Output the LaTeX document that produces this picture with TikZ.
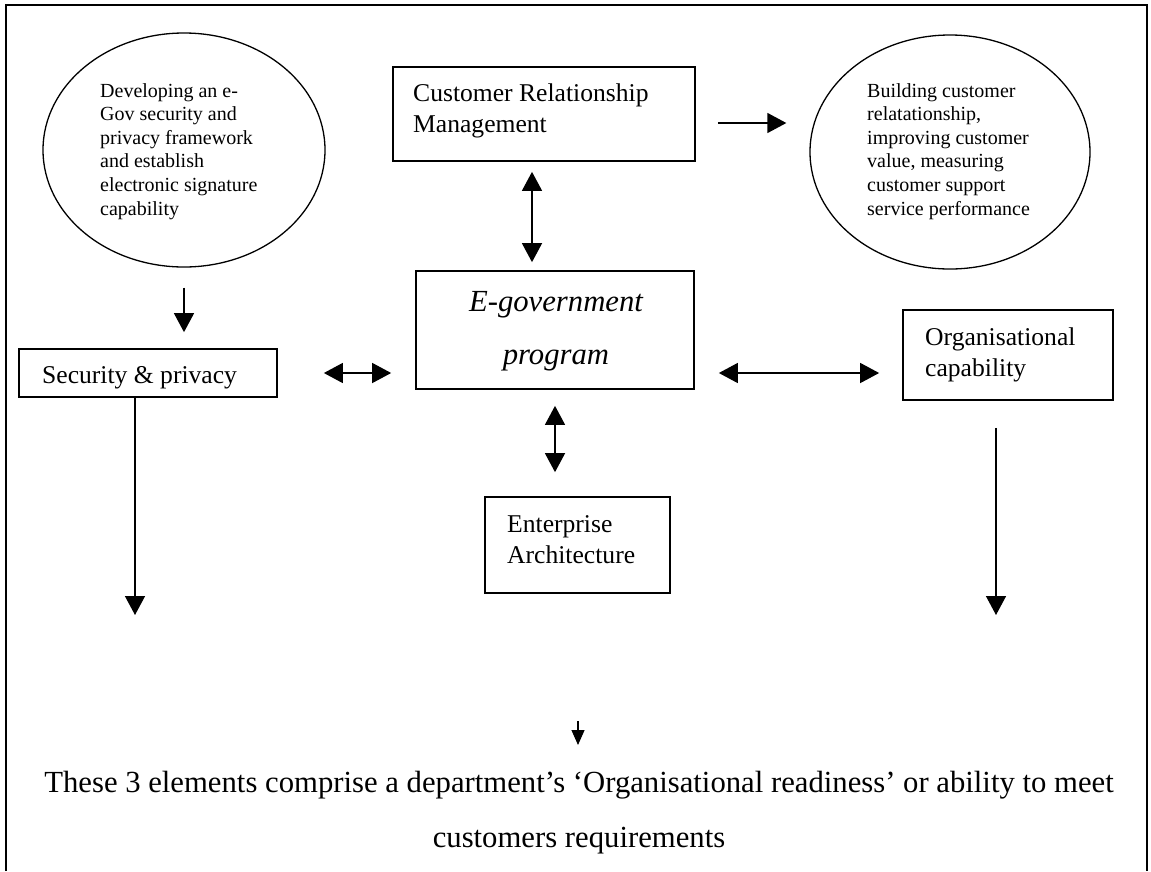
\documentclass[tikz,border=0pt]{standalone}
\usepackage{fontspec}
\setmainfont{Liberation Serif}
\usetikzlibrary{arrows.meta,shapes.geometric}

% type sizes used in the figure
\newcommand{\ovalfont}{\fontsize{20pt}{23.6pt}\selectfont}
\newcommand{\boxfont}{\fontsize{25.6pt}{31.5pt}\selectfont}
\newcommand{\progfont}{\fontsize{30.7pt}{53pt}\selectfont\itshape}
\newcommand{\notefont}{\fontsize{30.7pt}{55pt}\selectfont}

\begin{document}
\begin{tikzpicture}[x=1pt,y=-1pt,
  box/.style={draw, line width=1.7pt, inner sep=0pt},
  oval/.style={ellipse, draw, line width=1.3pt, inner sep=0pt},
  txt/.style={anchor=base west, inner sep=0pt},
  ctxt/.style={anchor=base, inner sep=0pt},
  tip/.tip={Triangle[width=20pt,length=19pt]},
  arr/.style={line width=1.4pt, -tip},
  darr/.style={line width=1.4pt, tip-tip}]

\useasboundingbox (0,0) rectangle (1151,871);
\fill[white] (0,0) rectangle (1151,871);

% page frame (open at the bottom)
\draw[line width=1.3pt] (6,871) -- (6,5) -- (1147,5) -- (1147,871);

% ---------- shapes ----------
\node[oval, minimum width=282pt, minimum height=234pt] (secoval) at (184,150) {};
\node[oval, minimum width=280pt, minimum height=234pt] (crmoval) at (950,152) {};

\node[box, minimum width=302pt, minimum height=94pt]  (crm)  at (544,114) {};
\node[box, minimum width=278pt, minimum height=118pt] (egov) at (555,330) {};
\node[box, minimum width=258pt, minimum height=48pt]  (sec)  at (148,373) {};
\node[box, minimum width=210pt, minimum height=90pt]  (org)  at (1008,355) {};
\node[box, minimum width=185pt, minimum height=96pt]  (ea)   at (577.5,545) {};

% ---------- texts ----------
\node[txt, font=\ovalfont] (secovaltext) at (100,97)
  {\vtop{\hbox{Developing an e-}\hbox{Gov security and}\hbox{privacy framework}%
   \hbox{and establish}\hbox{electronic signature}\hbox{capability}}};
\node[txt, font=\ovalfont] (crmovaltext) at (867,97)
  {\vtop{\hbox{Building customer}\hbox{relatationship,}\hbox{improving customer}%
   \hbox{value, measuring}\hbox{customer support}\hbox{service performance}}};

\node[txt, font=\boxfont] (crmtext) at (413,101)
  {\vtop{\hbox{Customer Relationship}\hbox{Management}}};
\node[ctxt, font=\progfont] (egovtext) at (556,311)
  {\vtop{\hbox to 240pt{\hfil E-government\hfil}\hbox to 240pt{\hfil program\hfil}}};
\node[txt, font=\boxfont] (sectext) at (42,383) {Security \& privacy};
\node[txt, font=\boxfont] (orgtext) at (925,345)
  {\vtop{\hbox{Organisational}\hbox{capability}}};
\node[txt, font=\boxfont] (eatext) at (507,532)
  {\vtop{\hbox{Enterprise}\hbox{Architecture}}};

\node[ctxt, font=\notefont] (summary) at (579,792)
  {\vtop{\hbox to 1140pt{\hfil These 3 elements comprise a department’s ‘Organisational readiness’ or ability to meet\hfil}%
   \hbox to 1140pt{\hfil customers requirements\hfil}}};

% ---------- connectors ----------
\draw[darr, shorten <=10pt, shorten >=8pt]
  ([xshift=-12pt]crm.south) -- ([xshift=-12pt]crm.south |- egov.north);
\draw[arr, shorten <=22pt, shorten >=23pt]
  ([yshift=-9pt]crm.east) -- ([yshift=-9pt]crm.east -| crmoval.west);
\draw[arr, shorten <=20pt, shorten >=16pt]
  (secoval.south) -- (secoval.south |- sec.north);
\draw[darr, shorten <=46pt, shorten >=24pt]
  (sec.east) -- (sec.east -| egov.west);
\draw[darr, shorten <=24pt, shorten >=23pt]
  (egov.east |- sec.east) -- (org.west |- sec.east);
\draw[darr, shorten <=16pt, shorten >=24pt]
  (egov.south) -- (egov.south |- ea.north);

\coordinate (secend) at (135,615);
\coordinate (orgend) at (996,615);
\draw[arr] (secend |- sec.south) -- (secend);
\draw[arr, shorten <=27pt] (orgend |- org.south) -- (orgend);

\coordinate (notetop) at (578,721);
\coordinate (notetip) at (578,745);
\draw[line width=1.2pt, -{Triangle[width=13pt,length=15pt]}] (notetop) -- (notetip);

\end{tikzpicture}
\end{document}
